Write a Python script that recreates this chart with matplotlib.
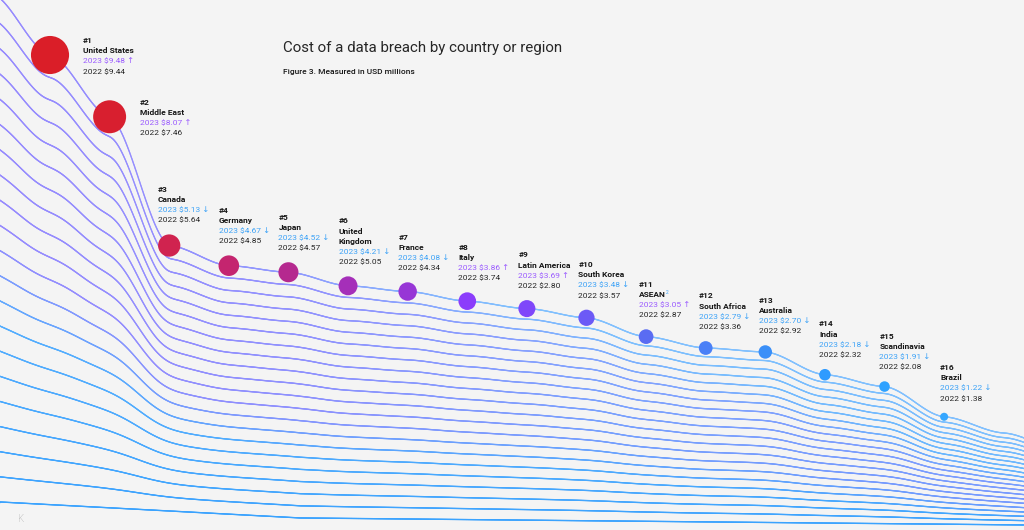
import numpy as np
import matplotlib
matplotlib.use("Agg")
import matplotlib.pyplot as plt
from matplotlib.collections import LineCollection
from matplotlib.colors import to_rgb

# ---------------- data ----------------
ranks = list(range(1, 17))
regions = ["United States", "Middle East", "Canada", "Germany", "Japan",
           "United\nKingdom", "France", "Italy", "Latin America", "South Korea",
           "ASEAN", "South Africa", "Australia", "India", "Scandinavia", "Brazil"]
cost_2023 = [9.48, 8.07, 5.13, 4.67, 4.52, 4.21, 4.08, 3.86, 3.69, 3.48,
             3.05, 2.79, 2.70, 2.18, 1.91, 1.22]
cost_2022 = [9.44, 7.46, 5.64, 4.85, 4.57, 5.05, 4.34, 3.74, 2.80, 3.57,
             2.87, 3.36, 2.92, 2.32, 2.08, 1.38]
bubble_colors = ["#da1e28", "#d81f2f", "#d0234f", "#c4256f", "#b5298f", "#a52fb9",
                 "#9736d6", "#8b3dfb", "#7f47fa", "#6c5af6", "#5a6cf2", "#4a80f7",
                 "#3a8ff8", "#2f9bff", "#2fa2ff", "#35a7ff"]

# decorative flow lines: lead-in / lead-out of the top curve and the bottom baseline
lead_in_x, lead_in_v = [-1.0], [10.9]
lead_out_x, lead_out_v = [16.0, 17.0], [0.85, 0.45]
base_x, base_v = [-0.84, 4.2, 16.34], [-0.725, -1.09, -1.25]
n_lines = 21

title = "Cost of a data breach by country or region"
subtitle = "Figure 3. Measured in USD millions"

# ---------------- figure ----------------
W, H, DPI = 1024, 530, 100
BG = "#f4f4f4"
fig = plt.figure(figsize=(W / DPI, H / DPI), dpi=DPI, facecolor=BG)
ax = fig.add_axes([0, 0, 1, 1])
ax.set_facecolor(BG)
XMIN, XMAX = -0.839, 16.34
YMIN, YMAX = -1.365, 10.736
ax.set_xlim(XMIN, XMAX)
ax.set_ylim(YMIN, YMAX)
ax.axis("off")

FONT = ["Roboto", "DejaVu Sans"]
PT = 72.0 / DPI  # points per pixel

# main curve through bubbles (smooth step interpolation)
xi = np.arange(len(cost_2023), dtype=float)
node_x = np.array(lead_in_x + list(xi) + lead_out_x)
node_v = np.array(lead_in_v + list(cost_2023) + lead_out_v)

NG = 2500
xs = np.linspace(XMIN - 0.05, XMAX + 0.05, NG)
seg = np.clip(np.searchsorted(node_x, xs) - 1, 0, len(node_x) - 2)
t = (xs - node_x[seg]) / (node_x[seg + 1] - node_x[seg])
t = np.clip(t, 0, 1)
ss = t * t * (3 - 2 * t)
s = 0.8 * ss + 0.2 * t
y_top = node_v[seg] + (node_v[seg + 1] - node_v[seg]) * s
y_base = np.interp(xs, base_x, base_v)

x_px = (xs - XMIN) / (XMAX - XMIN) * W
pts_per_px = NG / (x_px[-1] - x_px[0])


def smooth(y, sigma_px):
    if sigma_px <= 0.5:
        return y.copy()
    sg = sigma_px * pts_per_px
    half = int(4 * sg)
    kx = np.arange(-half, half + 1)
    ker = np.exp(-0.5 * (kx / sg) ** 2)
    ker /= ker.sum()
    yp = np.pad(y, half, mode="reflect", reflect_type="odd")
    return np.convolve(yp, ker, mode="valid")


purple = np.array(to_rgb("#968aff"))
blue_top = np.array(to_rgb("#80c0ff"))
blue_bot = np.array(to_rgb("#3aa3ff"))

xm_px = 0.5 * (x_px[1:] + x_px[:-1])
ridge = np.interp(xm_px, [0, 300, 600, 1024], [4.5, 6, 8, 13.5])
halfw = np.interp(xm_px, [0, 300, 600, 1024], [5, 5.5, 4, 2])
amp = np.interp(xm_px, [0, 300, 600, 1024], [1.0, 0.85, 0.45, 0.55])

for k in range(n_lines - 1, -1, -1):
    f = k / (n_lines - 1)
    ys = smooth(y_top, 1.5 + 22 * f)
    yk = ys + f * (y_base - ys)
    pts = np.column_stack([xs, yk]).reshape(-1, 1, 2)
    segs = np.concatenate([pts[:-1], pts[1:]], axis=1)
    p = amp * np.clip(1 - (np.abs(k - ridge) - halfw) / 3.0, 0, 1)
    bl = blue_top * (1 - f) + blue_bot * f
    cols = bl[None, :] * (1 - p[:, None]) + purple[None, :] * p[:, None]
    lc = LineCollection(segs, colors=cols, linewidths=0.95, zorder=2,
                        capstyle="round")
    ax.add_collection(lc)

# bubbles
radii_px = [1.8 + 1.82 * v for v in cost_2023]
sizes = [(2 * r * PT) ** 2 for r in radii_px]
ax.scatter(xi, cost_2023, s=sizes, c=bubble_colors, edgecolors="none", zorder=5)

# labels
UP_C, DOWN_C = "#9b5cff", "#3ea3f7"
FS = 6.0
SP = 10.4  # line spacing in px
text_objs = {}
for i in range(len(cost_2023)):
    r = radii_px[i]
    up = cost_2023[i] >= cost_2022[i]
    lines = [("#%d" % ranks[i], "bold", "#161616")]
    for nm in regions[i].split("\n"):
        lines.append((nm, "bold", "#161616"))
    lines.append(("2023 $%.2f %s" % (cost_2023[i], "↑" if up else "↓"),
                  "normal", UP_C if up else DOWN_C))
    lines.append(("2022 $%.2f" % cost_2022[i], "normal", "#262626"))
    nl = len(lines)
    for j, (txt, wt, col) in enumerate(lines):
        if ranks[i] <= 2:
            xo = r + 14
            yo = ((nl - 1) / 2 - j) * SP - 1
        else:
            xo = -r
            yo = (r + 14) + (nl - 1 - j) * SP
        to = ax.annotate(txt, (xi[i], cost_2023[i]), xytext=(xo * PT, yo * PT),
                         textcoords="offset points", ha="left", va="center",
                         fontsize=FS, fontweight=wt, color=col, family=FONT,
                         zorder=6)
        text_objs[(i, j)] = to

# footnote marker on ASEAN
fig.canvas.draw()
renderer = fig.canvas.get_renderer()
ia = regions.index("ASEAN")
bb = text_objs[(ia, 1)].get_window_extent(renderer)
fig.text((bb.x1 + 0.5) / W, (bb.y1 + 0.5) / H, "2", fontsize=3.5, color=DOWN_C,
         ha="left", va="top", family=FONT)

# title
fig.text(283 / W, 1 - 48 / H, title, fontsize=10.8, fontweight="normal",
         color="#262626", ha="left", va="center", family=FONT)
fig.text(283 / W, 1 - 72 / H, subtitle, fontsize=6, fontweight="medium",
         color="#161616", ha="left", va="center", family=FONT)
fig.text(18 / W, 1 - 519 / H, "K", fontsize=7, fontweight="light",
         color="#a0a0a0", ha="left", va="center", family=FONT)

fig.savefig("out.png", dpi=DPI, facecolor=BG)
